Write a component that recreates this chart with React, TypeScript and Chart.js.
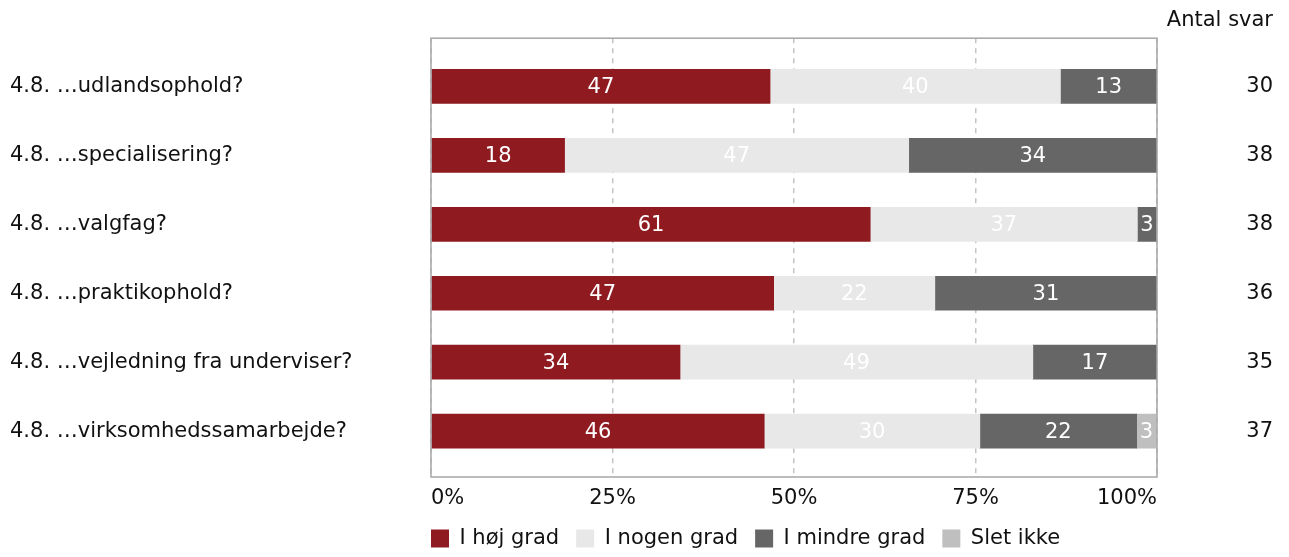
import React, { useEffect, useRef } from "react";
import { Chart, registerables } from "chart.js";

Chart.register(...registerables);

const categories = [
  "4.8. …udlandsophold?",
  "4.8. …specialisering?",
  "4.8. …valgfag?",
  "4.8. …praktikophold?",
  "4.8. …vejledning fra underviser?",
  "4.8. …virksomhedssamarbejde?",
];
const seriesNames = ["I høj grad", "I nogen grad", "I mindre grad", "Slet ikke"];
const hoejGrad = [46.7, 18.4, 60.5, 47.2, 34.3, 45.9];
const nogenGrad = [40.0, 47.4, 36.8, 22.2, 48.6, 29.7];
const mindreGrad = [13.3, 34.2, 2.6, 30.6, 17.1, 21.6];
const sletIkke = [0, 0, 0, 0, 0, 2.7];
const antalSvar = [30, 38, 38, 36, 35, 37];
const xTicks = [0, 25, 50, 75, 100];
const colors = ["#8f1b20", "#e8e8e8", "#666666", "#bfbfbf"];

const FONT = "'DejaVu Sans', Verdana, sans-serif";
const FS = 21;
const TEXT = "#111111";

const dataLabelPlugin = {
  id: "dataLabels",
  afterDatasetsDraw(chart: any) {
    const ctx = chart.ctx;
    ctx.save();
    ctx.font = `${FS}px ${FONT}`;
    ctx.fillStyle = "#ffffff";
    ctx.textAlign = "center";
    ctx.textBaseline = "middle";
    chart.data.datasets.forEach((ds: any, di: number) => {
      const meta = chart.getDatasetMeta(di);
      meta.data.forEach((el: any, i: number) => {
        const v = ds.data[i].x;
        if (!v) return;
        const cx = (el.x + el.base) / 2;
        ctx.fillText(String(Math.round(v)), cx, el.y + 1);
      });
    });
    ctx.restore();
  },
};

const framePlugin = {
  id: "frame",
  afterDatasetsDraw(chart: any) {
    const { ctx, chartArea } = chart;
    ctx.save();
    ctx.strokeStyle = "#a6a6a6";
    ctx.lineWidth = 1.5;
    ctx.strokeRect(chartArea.left, chartArea.top, chartArea.right - chartArea.left, chartArea.bottom - chartArea.top);
    ctx.restore();
  },
};

const legendShiftPlugin = {
  id: "legendShift",
  afterLayout(chart: any) {
    const lg = chart.legend;
    if (!lg) return;
    const p = lg.options.labels.padding;
    lg.left -= p;
    lg.right -= p;
  },
};

export default function App() {
  const ref = useRef<HTMLCanvasElement | null>(null);
  useEffect(() => {
    if (!ref.current) return;
    const series = [hoejGrad, nogenGrad, mindreGrad, sletIkke];
    const idxTicks = (scale: any) => {
      scale.ticks = categories.map((_, i) => ({ value: i }));
    };
    const chart = new Chart(ref.current, {
      type: "bar",
      data: {
        datasets: series.map((s, si) => ({
          label: seriesNames[si],
          data: s.map((v, i) => ({ x: v, y: i })),
          backgroundColor: colors[si],
          borderWidth: 0,
          barThickness: 34,
        })),
      },
      options: {
        indexAxis: "y",
        animation: false,
        responsive: true,
        maintainAspectRatio: false,
        layout: { padding: { left: 2, right: 8, top: 0, bottom: 0 } },
        scales: {
          x: {
            type: "linear",
            stacked: true,
            min: 0,
            max: 100,
            afterBuildTicks: (scale: any) => {
              scale.ticks = xTicks.map((v) => ({ value: v }));
            },
            afterFit: (scale: any) => {
              scale.height = 34;
            },
            ticks: {
              align: "inner",
              padding: 9,
              color: TEXT,
              font: { family: FONT, size: FS },
              callback: (v: any) => `${v}%`,
            },
            grid: { color: "#c4c4c4", drawTicks: false, lineWidth: 1.5 },
            border: { display: false, dash: [5, 5] },
          },
          y: {
            type: "linear",
            position: "left",
            stacked: true,
            reverse: true,
            offset: false,
            min: -0.7,
            max: 5.666,
            afterBuildTicks: idxTicks,
            afterFit: (scale: any) => {
              scale.width = 421;
            },
            ticks: {
              crossAlign: "far",
              color: TEXT,
              autoSkip: false,
              font: { family: FONT, size: FS },
              callback: (v: any) => categories[v],
            },
            grid: { display: false },
            border: { display: false },
          },
          yR: {
            type: "linear",
            position: "right",
            reverse: true,
            offset: false,
            min: -0.7,
            max: 5.666,
            afterBuildTicks: idxTicks,
            afterFit: (scale: any) => {
              scale.width = 116;
            },
            ticks: {
              crossAlign: "far",
              color: TEXT,
              autoSkip: false,
              font: { family: FONT, size: FS },
              callback: (v: any) => String(antalSvar[v]),
            },
            grid: { display: false },
            border: { display: false },
          },
        },
        plugins: {
          title: {
            display: true,
            text: "Antal svar",
            align: "end",
            color: TEXT,
            font: { family: FONT, size: FS, weight: "normal" },
            padding: { top: 0, bottom: 5 },
          },
          legend: {
            display: true,
            position: "bottom",
            align: "start",
            fullSize: false,
            labels: {
              boxWidth: 18,
              boxHeight: 18,
              padding: 17,
              color: TEXT,
              font: { family: FONT, size: FS },
            },
          },
          tooltip: { enabled: false },
        },
      },
      plugins: [dataLabelPlugin, framePlugin, legendShiftPlugin],
    } as any);
    return () => chart.destroy();
  }, []);
  return (
    <div style={{ width: "100%", height: 541, overflow: "hidden" }}>
      <div style={{ position: "relative", width: "100%", height: 551 }}>
        <canvas ref={ref} />
      </div>
    </div>
  );
}
